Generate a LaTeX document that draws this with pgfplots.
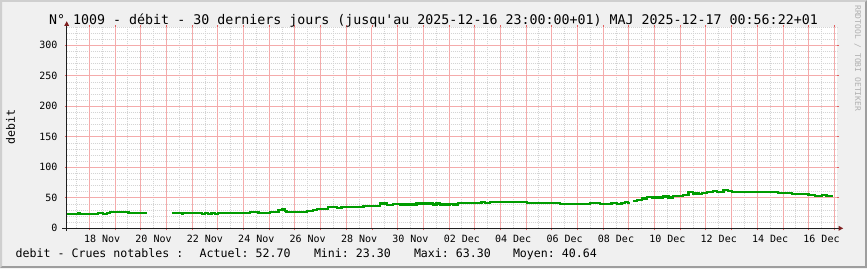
\documentclass[border=0pt]{standalone}
\usepackage{fontspec}
\setmonofont{DejaVu Sans Mono}
\renewcommand\familydefault{\ttdefault}
\usepackage{pgfplots}
\pgfplotsset{compat=1.18}
\definecolor{bgc}{HTML}{F0F0F0}
\definecolor{shadeA}{HTML}{CFCFCF}
\definecolor{shadeB}{HTML}{9E9E9E}
\definecolor{mgrid}{HTML}{F4ABAB}
\definecolor{mtick}{HTML}{E06060}
\definecolor{mngrid}{HTML}{D4D4D4}
\definecolor{arrowc}{HTML}{7F1F1F}
\definecolor{axisc}{HTML}{1F1F1F}
\definecolor{linec}{HTML}{009C00}
\definecolor{wm}{HTML}{B0B0B0}
\begin{document}
\begin{tikzpicture}[x=1bp,y=1bp]
\path[use as bounding box] (0,0) rectangle (867,268);
\fill[bgc] (0,0) rectangle (867,268);
\fill[shadeA] (0,0)--(0,268)--(867,268)--(865,266)--(2,266)--(2,2)--cycle;
\fill[shadeB] (0,0)--(867,0)--(867,268)--(865,266)--(865,2)--(2,2)--cycle;
\begin{axis}[
  at={(66.7bp,39.7bp)}, anchor=south west,
  scale only axis, width=770.7bp, height=201.3bp,
  xmin=17.12, xmax=47.12, ymin=0, ymax=330,
  axis line style={draw=none},
  axis background/.style={fill=white},
  xtick={18,...,47},
  xticklabels={18 Nov,,20 Nov,,22 Nov,,24 Nov,,26 Nov,,28 Nov,,30 Nov,,02 Dec,,04 Dec,,06 Dec,,08 Dec,,10 Dec,,12 Dec,,14 Dec,,16 Dec,},
  ytick={0,50,...,300},
  yticklabels={0,50,100,150,200,250,300},
  grid=none,
  tick align=outside,
  major tick length=2bp,
  major tick style={mtick, line width=0.8bp, solid},
  xticklabel pos=left, yticklabel pos=left,
  xticklabel style={anchor=base, yshift=-12.4bp, xshift=12.85bp, inner sep=0pt, font=\ttfamily\fontsize{10bp}{12bp}\selectfont},
  yticklabel style={anchor=east, xshift=-7bp, inner sep=0pt, font=\ttfamily\fontsize{10bp}{12bp}\selectfont},
  clip=false,
]
\pgfplotsinvokeforeach{17.5,18.5,...,46.5}{\draw[mngrid, line width=0.8bp, dash pattern=on 1bp off 1bp] (axis cs:#1,0) -- (axis cs:#1,330);}
\pgfplotsinvokeforeach{10,20,30,40,60,70,80,90,110,120,130,140,160,170,180,190,210,220,230,240,260,270,280,290,310,320,330}{\draw[mngrid, line width=0.8bp, dash pattern=on 1bp off 1bp] (axis cs:17.12,#1) -- (axis cs:47.12,#1);}
\pgfplotsinvokeforeach{18,...,47}{\draw[mgrid, line width=0.9bp] (axis cs:#1,0) -- (axis cs:#1,330);}
\pgfplotsinvokeforeach{50,100,...,300}{\draw[mgrid, line width=0.9bp] (axis cs:17.12,#1) -- (axis cs:47.12,#1);}
\addplot[const plot, linec, line width=2.3bp] coordinates {
(17.12,23.9) (17.57,25.6) (17.64,23.9) (17.77,23.3) (17.90,23.9) (18.35,25.6) (18.54,23.9) (18.68,25.6) (18.81,27.2) (19.52,25.6) (20.23,25.6)};
\addplot[const plot, linec, line width=2.3bp] coordinates {
(21.21,25.6) (21.60,23.9) (21.66,25.6) (22.38,23.9) (22.50,25.6) (22.63,23.9) (22.76,25.6) (22.89,23.9) (23.02,25.6) (24.26,27.2) (24.58,25.6) (25.03,27.2) (25.36,30.0) (25.49,31.0) (25.62,28.9) (25.68,27.2) (26.46,28.9) (26.72,30.0) (26.85,32.1) (27.30,34.9) (27.63,33.8) (27.82,35.4) (28.67,37.0) (29.32,40.9) (29.58,38.7) (29.83,40.3) (30.09,39.2) (30.74,40.9) (31.39,39.2) (31.52,40.9) (31.65,39.2) (32.04,40.3) (32.17,39.2) (32.36,41.9) (33.27,43.6) (33.40,41.9) (33.60,43.6) (35.03,41.9) (36.32,40.3) (37.49,41.9) (37.88,40.3) (38.33,41.9) (38.53,39.8) (38.72,41.9) (38.85,43.6) (38.98,41.9) (39.05,41.9)};
\addplot[const plot, linec, line width=2.3bp] coordinates {
(39.18,45.2) (39.31,46.9) (39.50,49.0) (39.70,51.8) (39.89,50.7) (40.34,52.3) (40.54,50.7) (40.73,52.9) (41.12,54.5) (41.32,60.0) (41.51,57.2) (41.71,56.1) (41.84,58.3) (42.03,60.0) (42.29,61.6) (42.42,60.0) (42.68,63.3) (42.87,61.6) (43.01,60.0) (44.82,58.3) (45.34,56.7) (45.99,55.0) (46.25,53.4) (46.51,55.0) (46.70,52.7) (46.96,52.7)};
\end{axis}
\draw[axisc, line width=0.9bp] (66.7,37) -- (66.7,242);
\fill[arrowc] (64.2,242)--(69.2,242)--(66.7,246.8)--cycle;
\draw[axisc, line width=0.9bp] (62,39.7) -- (838.5,39.7);
\fill[arrowc] (838.5,37.2)--(838.5,42.2)--(843.2,39.7)--cycle;
\node[anchor=base, inner sep=0pt] at (433.5,244) {\fontsize{13.3bp}{16bp}\selectfont N° 1009 - débit - 30 derniers jours (jusqu'au 2025-12-16 23:00:00+01) MAJ 2025-12-17 00:56:22+01};
\node[rotate=90, inner sep=0pt] at (10.5,141) {\fontsize{11.6bp}{14bp}\selectfont debit};
\node[rotate=-90, anchor=west, inner sep=0pt, text=wm] at (857.7,263) {\fontsize{8bp}{10bp}\selectfont RRDTOOL / TOBI OETIKER};
\node[anchor=base west, inner sep=0pt] at (15.5,11) {\fontsize{11.6bp}{14bp}\selectfont debit - Crues notables :};
\node[anchor=base west, inner sep=0pt] at (199.5,11) {\fontsize{11.6bp}{14bp}\selectfont Actuel: 52.70};
\node[anchor=base west, inner sep=0pt] at (313.8,11) {\fontsize{11.6bp}{14bp}\selectfont Mini: 23.30};
\node[anchor=base west, inner sep=0pt] at (413.8,11) {\fontsize{11.6bp}{14bp}\selectfont Maxi: 63.30};
\node[anchor=base west, inner sep=0pt] at (512.8,11) {\fontsize{11.6bp}{14bp}\selectfont Moyen: 40.64};
\end{tikzpicture}
\end{document}
